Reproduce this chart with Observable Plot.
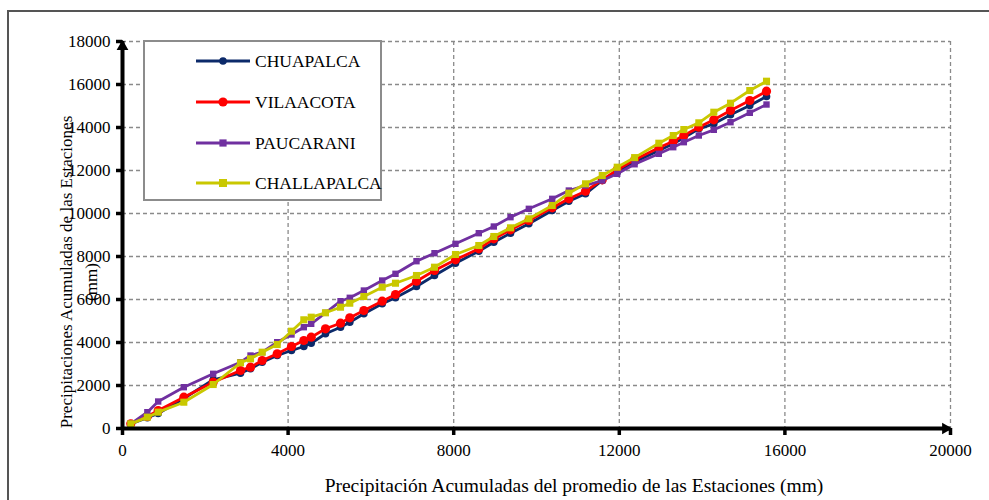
<!DOCTYPE html>
<html>
<head>
<meta charset="utf-8">
<script src="https://cdn.jsdelivr.net/npm/d3@7"></script>
<script src="https://cdn.jsdelivr.net/npm/@observablehq/plot@0.6"></script>
<style>
  body { margin: 0; background: #fff; font-family: "Liberation Serif", "Times New Roman", serif; }
  #wrap { position: relative; width: 989px; height: 500px; overflow: hidden; }
  #frame { position: absolute; left: 7px; top: 10px; width: 1000px; height: 520px; border: 2px solid #555; box-sizing: border-box; }
  #chart { position: absolute; left: 0; top: 0; }
  .ytitle { position: absolute; white-space: nowrap; font-size: 17px; color: #000;
            transform: translate(-50%, -50%) rotate(-90deg); }
  #xtitle { position: absolute; left: 574px; top: 486px; transform: translate(-50%, -50%);
            white-space: nowrap; font-size: 19.5px; color: #000; }
  #legend { position: absolute; left: 143px; top: 40px; width: 239px; height: 161px; box-sizing: border-box;
            border: 2px solid #8c8c8c; background: #fff; }
  .lrow { position: absolute; left: 51px; height: 24px; display: flex; align-items: center; font-size: 17.5px; }
  .lrow svg { margin-right: 5px; }
</style>
</head>
<body>
<div id="wrap">
  <div id="frame"></div>
  <div id="chart"></div>
  <div class="ytitle" style="left:67px; top:272px;">Precipitaciones Acumuladas de las Estaciones</div>
  <div class="ytitle" style="left:92px; top:282px;">(mm)</div>
  <div id="xtitle">Precipitación Acumuladas del promedio de las Estaciones (mm)</div>
  <div id="legend"></div>
</div>
<script>
// Accumulated mean precipitation of the stations (mm), one value per year
const promedio = [200, 600, 862, 1481, 2190, 2850, 3092, 3374, 3737, 4082,
  4380, 4558, 4903, 5266, 5490, 5830, 6273, 6594, 7101, 7536,
  8043, 8606, 8969, 9372, 9815, 10380, 10781, 11184, 11588, 11950,
  12370, 12955, 13303, 13559, 13921, 14283, 14686, 15152, 15556];

// Accumulated precipitation of each station (mm)
const chuapalca = [217, 498, 698, 1395, 2265, 2572, 2776, 3084, 3395, 3628,
  3814, 3967, 4405, 4712, 4944, 5335, 5800, 6079, 6604, 7116,
  7688, 8246, 8665, 9083, 9521, 10139, 10572, 10916, 11534, 11921,
  12400, 12930, 13241, 13520, 13939, 14172, 14590, 15023, 15441];
const vilaacota = [217, 560, 837, 1456, 2153, 2698, 2851, 3163, 3474, 3814,
  4093, 4246, 4637, 4898, 5149, 5488, 5921, 6232, 6851, 7348,
  7846, 8358, 8823, 9241, 9674, 10265, 10683, 11037, 11567, 12032,
  12500, 13055, 13362, 13627, 14013, 14358, 14790, 15255, 15688];
const paucarani = [217, 760, 1256, 1921, 2544, 3084, 3395, 3549, 4014, 4372,
  4711, 4870, 5381, 5921, 6079, 6418, 6883, 7195, 7781, 8153,
  8590, 9083, 9395, 9828, 10218, 10683, 11069, 11302, 11534, 11846,
  12290, 12776, 13083, 13316, 13627, 13892, 14246, 14683, 15069];
const challapalca = [217, 527, 760, 1223, 2046, 3055, 3242, 3549, 3907, 4526,
  5056, 5177, 5381, 5642, 5828, 6139, 6572, 6758, 7116, 7502,
  8093, 8511, 8930, 9334, 9753, 10372, 10944, 11381, 11767, 12153,
  12600, 13269, 13627, 13906, 14218, 14711, 15130, 15720, 16153];

const estaciones = ["CHUAPALCA", "VILAACOTA", "PAUCARANI", "CHALLAPALCA"];
const xTicks = [0, 4000, 8000, 12000, 16000, 20000];
const yTicks = [0, 2000, 4000, 6000, 8000, 10000, 12000, 14000, 16000, 18000];

const series = [
  {name: estaciones[0], values: chuapalca,   color: "#0c2a6a", symbol: "circle", r: 3.8},
  {name: estaciones[1], values: vilaacota,   color: "#ff0000", symbol: "circle", r: 4.6},
  {name: estaciones[2], values: paucarani,   color: "#7030a0", symbol: "square", r: 3.6},
  {name: estaciones[3], values: challapalca, color: "#c9c800", symbol: "square", r: 4.0}
];

const seriesMarks = series.flatMap(s => {
  const pts = s.values.map((v, i) => ({x: promedio[i], y: v}));
  return [
    Plot.line(pts, {x: "x", y: "y", stroke: s.color, strokeWidth: 2.8}),
    Plot.dot(pts, {x: "x", y: "y", fill: s.color, symbol: s.symbol, r: s.r, stroke: "none"})
  ];
});

const chart = Plot.plot({
  width: 989,
  height: 500,
  marginLeft: 122,
  marginRight: 39,
  marginTop: 41,
  marginBottom: 72,
  style: {fontFamily: "'Liberation Serif', 'Times New Roman', serif", fontSize: "17px", color: "#000", background: "transparent"},
  x: {domain: [0, 20000]},
  y: {domain: [0, 18000]},
  marks: [
    Plot.ruleY(yTicks.slice(1), {stroke: "#8a8a8a", strokeWidth: 1.3, strokeDasharray: "4,3"}),
    Plot.ruleX(xTicks.slice(1), {stroke: "#8a8a8a", strokeWidth: 1.3, strokeDasharray: "4,3"}),
    Plot.axisX({ticks: xTicks, tickSize: 7, tickPadding: 8, tickFormat: d => String(d), stroke: "#000", strokeWidth: 3.5, label: null, fontSize: 17}),
    Plot.axisY({ticks: yTicks, tickSize: 6, tickPadding: 6, tickFormat: d => String(d), stroke: "#000", strokeWidth: 3.5, label: null, fontSize: 17}),
    ...seriesMarks,
    Plot.ruleY([0], {stroke: "#000", strokeWidth: 4}),
    Plot.ruleX([0], {stroke: "#000", strokeWidth: 4}),
    Plot.dot([{x: 20000, y: 0}], {x: "x", y: "y", symbol: "triangle2", r: 5.6, fill: "#000", rotate: 90, dx: -5}),
    Plot.dot([{x: 0, y: 18000}], {x: "x", y: "y", symbol: "triangle2", r: 5.6, fill: "#000", dy: 5})
  ]
});
document.getElementById("chart").appendChild(chart);

// Legend
const legend = document.getElementById("legend");
const rowTops = [7, 48, 89, 129];
series.forEach((s, i) => {
  const row = document.createElement("div");
  row.className = "lrow";
  row.style.top = rowTops[i] + "px";
  const shape = s.symbol === "circle"
    ? `<circle cx="27" cy="6" r="${s.r}" fill="${s.color}"/>`
    : `<rect x="${27 - s.r}" y="${6 - s.r}" width="${2 * s.r}" height="${2 * s.r}" fill="${s.color}"/>`;
  row.innerHTML = `<svg width="54" height="12"><line x1="0" y1="6" x2="54" y2="6" stroke="${s.color}" stroke-width="2.8"/>${shape}</svg><span>${s.name}</span>`;
  legend.appendChild(row);
});
</script>
</body>
</html>
